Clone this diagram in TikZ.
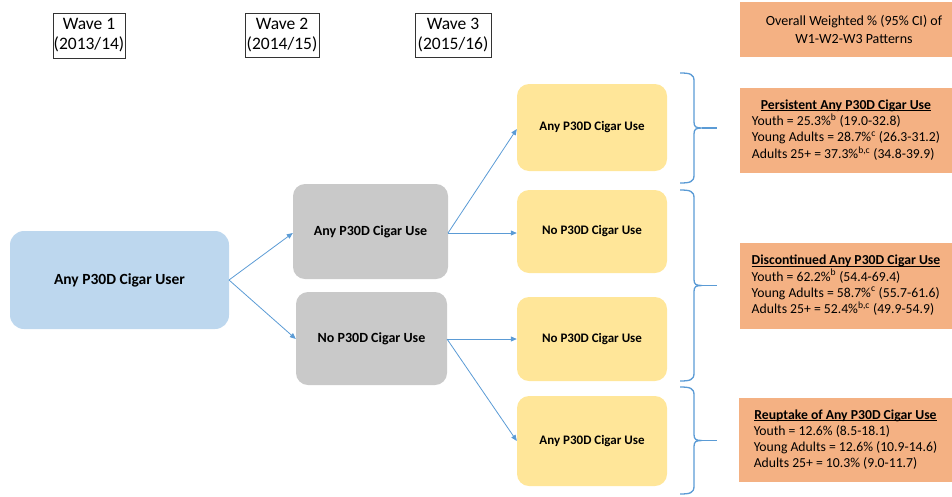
\documentclass[tikz,border=0pt]{standalone}
\usepackage{fontspec}
\setmainfont{Carlito}
\usetikzlibrary{arrows.meta}
\definecolor{bluebox}{HTML}{BDD7EE}
\definecolor{graybox}{HTML}{C9C9C9}
\definecolor{yellowbox}{HTML}{FFE699}
\definecolor{orangebox}{HTML}{F4B183}
\definecolor{linkblue}{HTML}{5B9BD5}
\newcommand\myul[1]{\setbox0\hbox{#1}\rlap{\rule[-1.8pt]{\wd0}{0.8pt}}\box0}
\tikzset{
  wavebox/.style={draw=black!80, line width=0.8pt, fill=white, align=center, inner sep=0pt,
    font=\fontsize{17.5}{20}\selectfont},
  startbox/.style={fill=bluebox, rounded corners=14pt, inner sep=0pt, font=\bfseries\fontsize{15.5}{18}\selectfont},
  midbox/.style={fill=graybox, rounded corners=12pt, inner sep=0pt, font=\bfseries\fontsize{14}{16}\selectfont},
  endbox/.style={fill=yellowbox, rounded corners=12pt, inner sep=0pt, font=\bfseries\fontsize{13}{15}\selectfont},
  resultbox/.style={fill=orangebox, inner sep=0pt, font=\fontsize{13.7}{16}\selectfont},
  link/.style={draw=linkblue, line width=0.8pt, -{Triangle[length=6pt,width=5pt]}},
  bracestyle/.style={draw=linkblue, line width=1.3pt},
}
\begin{document}
\begin{tikzpicture}[x=1pt,y=-1pt]
\useasboundingbox (0,0) rectangle (952,496);
% wave headers
\node[wavebox, minimum width=72pt, minimum height=45pt] (w1) at (89,35.5) {Wave 1\\(2013/14)};
\node[wavebox, minimum width=74pt, minimum height=44pt] (w2) at (282,35) {Wave 2\\(2014/15)};
\node[wavebox, minimum width=76pt, minimum height=44pt] (w3) at (453,35) {Wave 3\\(2015/16)};
\node[resultbox, minimum width=228pt, minimum height=55pt, align=center, font=\fontsize{14}{18}\selectfont] (ov) at (854,29.5) {Overall Weighted \% (95\% CI) of\\W1-W2-W3 Patterns};
% main boxes
\node[startbox, minimum width=219pt, minimum height=98pt] (a) at (119.5,280) {Any P30D Cigar User};
\node[midbox, minimum width=155pt, minimum height=95pt] (b1) at (370.5,231.5) {Any P30D Cigar Use};
\node[midbox, minimum width=151pt, minimum height=93pt] (b2) at (371.5,338.5) {No P30D Cigar Use};
\node[endbox, minimum width=150pt, minimum height=87pt] (c1) at (592,127.5) {Any P30D Cigar Use};
\node[endbox, minimum width=150pt, minimum height=83pt] (c2) at (592,231.5) {No P30D Cigar Use};
\node[endbox, minimum width=150pt, minimum height=84pt] (c3) at (592,339) {No P30D Cigar Use};
\node[endbox, minimum width=150pt, minimum height=90pt] (c4) at (592,441) {Any P30D Cigar Use};
% connectors
\coordinate (aout) at (229,280);
\coordinate (b1out) at (448,233);
\coordinate (b2out) at (447,339);
\draw[link] (aout) -- (b1.west |- 0,233);
\draw[link] (aout) -- (b2.west |- 0,339);
\draw[link] (b1out) -- (c1.west |- 0,129);
\draw[link] (b1out) -- (c2.west |- 0,233);
\draw[link] (b2out) -- (c3.west |- 0,339);
\draw[link] (b2out) -- (c4.west |- 0,441);
% braces
\foreach \t/\m/\b in {73/128/183, 190/285.5/381, 387/440.5/494}{
  \draw[bracestyle] (680,\t) .. controls (690,\t) and (694,\t+1) .. (694,\t+8)
    -- (694,\m-6) .. controls (694,\m-1) and (696,\m) .. (702,\m)
    .. controls (696,\m) and (694,\m+1) .. (694,\m+6)
    -- (694,\b-8) .. controls (694,\b-1) and (690,\b) .. (680,\b);
  \draw[bracestyle] (702,\m) -- (717,\m);
}
% result boxes
\node[resultbox, minimum width=212pt, minimum height=85pt] (r1) at (846,130.5) {\begin{tabular}{@{}l@{}}\multicolumn{1}{@{}c@{}}{\textbf{\myul{Persistent Any P30D Cigar Use}}}\\
Youth = 25.3\%\textsuperscript{b} (19.0-32.8)\\
Young Adults = 28.7\%\textsuperscript{c} (26.3-31.2)\\
Adults 25+ = 37.3\%\textsuperscript{b,c} (34.8-39.9)\end{tabular}};
\node[resultbox, minimum width=212pt, minimum height=86pt] (r2) at (846,286) {\begin{tabular}{@{}l@{}}\multicolumn{1}{@{}c@{}}{\textbf{\myul{Discontinued Any P30D Cigar Use}}}\\
Youth = 62.2\%\textsuperscript{b} (54.4-69.4)\\
Young Adults = 58.7\%\textsuperscript{c} (55.7-61.6)\\
Adults 25+ = 52.4\%\textsuperscript{b,c} (49.9-54.9)\end{tabular}};
\node[resultbox, minimum width=213pt, minimum height=84pt] (r3) at (845.5,440) {\begin{tabular}{@{}l@{}}\multicolumn{1}{@{}c@{}}{\textbf{\myul{Reuptake of Any P30D Cigar Use}}}\\
Youth = 12.6\% (8.5-18.1)\\
Young Adults = 12.6\% (10.9-14.6)\\
Adults 25+ = 10.3\% (9.0-11.7)\end{tabular}};
\end{tikzpicture}
\end{document}
